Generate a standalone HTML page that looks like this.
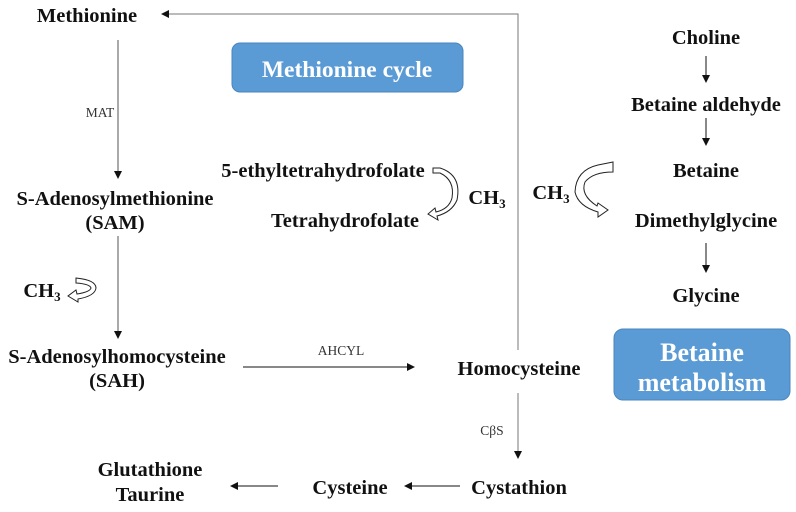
<!DOCTYPE html>
<html><head><meta charset="utf-8"><style>
html,body{margin:0;padding:0;background:#fff;}
svg{display:block;}
.t{font-family:"Liberation Serif",serif;font-weight:bold;font-size:20.5px;fill:#111;text-anchor:middle;}
.s{font-family:"Liberation Serif",serif;font-size:13.5px;fill:#333;text-anchor:middle;}
.b{font-family:"Liberation Serif",serif;font-weight:bold;fill:#fff;text-anchor:middle;}
</style></head><body>
<svg width="796" height="512" viewBox="0 0 796 512" xmlns="http://www.w3.org/2000/svg">
<defs>
<marker id="a" markerWidth="8" markerHeight="8" refX="7" refY="4" orient="auto" markerUnits="userSpaceOnUse"><path d="M0,0 L8,4 L0,8 z" fill="#111"/></marker>
</defs>
<g stroke="#555" stroke-width="1" fill="none">
<polyline points="518,350 518,14 162,14" stroke="#777" marker-end="url(#a)"/>
<line x1="118" y1="40" x2="118" y2="178" marker-end="url(#a)"/>
<line x1="118" y1="236" x2="118" y2="338" marker-end="url(#a)"/>
<line x1="243" y1="367" x2="414" y2="367" stroke="#111" marker-end="url(#a)"/>
<line x1="518" y1="393" x2="518" y2="458" stroke="#777" marker-end="url(#a)"/>
<line x1="460" y1="486" x2="405" y2="486" stroke="#111" marker-end="url(#a)"/>
<line x1="278" y1="486" x2="231" y2="486" stroke="#111" marker-end="url(#a)"/>
<line x1="706" y1="56" x2="706" y2="82" stroke="#111" marker-end="url(#a)"/>
<line x1="706" y1="118" x2="706" y2="145" stroke="#111" marker-end="url(#a)"/>
<line x1="706" y1="243" x2="706" y2="272" stroke="#111" marker-end="url(#a)"/>
</g>
<rect x="232" y="43" width="231" height="49" rx="8" fill="#5b9bd5" stroke="#4a86be"/>
<text class="b" x="347" y="77" font-size="23.5">Methionine cycle</text>
<rect x="614" y="329" width="176" height="71" rx="9" fill="#5b9bd5" stroke="#4a86be"/>
<text class="b" x="702" y="361" font-size="26">Betaine</text>
<text class="b" x="702" y="391" font-size="26">metabolism</text>
<text class="t" x="87" y="22">Methionine</text>
<text class="s" x="100" y="117">MAT</text>
<text class="t" x="115" y="205">S-Adenosylmethionine</text>
<text class="t" x="115" y="229">(SAM)</text>
<text class="t" x="42" y="297">CH<tspan font-size="13" dy="4">3</tspan></text>
<text class="t" x="117" y="363">S-Adenosylhomocysteine</text>
<text class="t" x="117" y="387">(SAH)</text>
<text class="s" x="341" y="355">AHCYL</text>
<text class="t" x="519" y="375">Homocysteine</text>
<text class="s" x="492" y="435">CβS</text>
<text class="t" x="519" y="494">Cystathion</text>
<text class="t" x="350" y="494">Cysteine</text>
<text class="t" x="150" y="476">Glutathione</text>
<text class="t" x="150" y="501">Taurine</text>
<text class="t" x="323" y="177">5-ethyltetrahydrofolate</text>
<text class="t" x="345" y="227">Tetrahydrofolate</text>
<text class="t" x="487" y="204">CH<tspan font-size="13" dy="4">3</tspan></text>
<text class="t" x="706" y="44">Choline</text>
<text class="t" x="706" y="111">Betaine aldehyde</text>
<text class="t" x="706" y="177">Betaine</text>
<text class="t" x="551" y="199">CH<tspan font-size="13" dy="4">3</tspan></text>
<text class="t" x="706" y="227">Dimethylglycine</text>
<text class="t" x="706" y="302">Glycine</text>
<g fill="#fff" stroke="#222" stroke-width="1">
<path d="M433,168 L440,168 Q462,175 457,200 Q452,212 437,216 L438,220 L428,214 L435,208 L436,212 Q449,209 452,198 Q455,180 440,173 L433,173 z"/>
<path d="M76,278 Q96,280 96,288 Q95,296 78,299 L78,302 L68,296 L76,290 L77,294 Q90,292 91,288 Q90,284 76,283 z"/>
<path d="M613,162 L613,172 Q593,172 585,182 Q580,195 597,206 L598,203 L608,210 L598,217 L598,212 Q578,206 575,192 Q576,170 598,165 z"/>
</g>
</svg>
</body></html>
